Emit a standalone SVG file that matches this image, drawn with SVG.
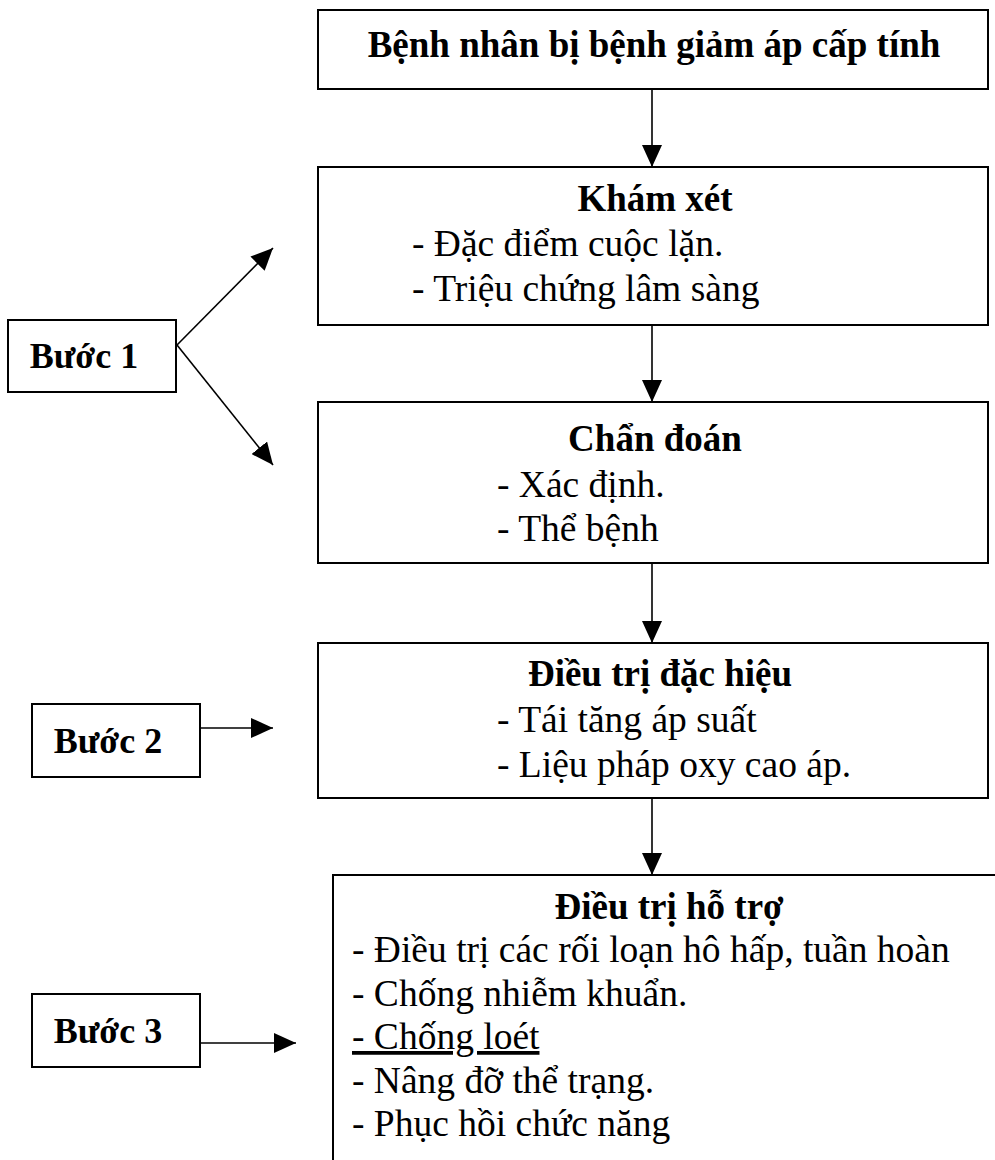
<svg xmlns="http://www.w3.org/2000/svg" width="995" height="1160" viewBox="0 0 995 1160">
<style>
.box{fill:#fff;stroke:#000;stroke-width:2}
.conn{stroke:#000;stroke-width:1.6;fill:none}
.t{font-family:"Liberation Serif","Times New Roman",serif;font-size:37.5px;fill:#000}
.b{font-weight:bold;font-size:37px}
.s{font-size:36px}
.c{text-anchor:middle}
</style>
<defs>
<marker id="ah" viewBox="0 0 22 20" refX="22" refY="10" markerWidth="22" markerHeight="20" markerUnits="userSpaceOnUse" orient="auto">
<path d="M0,0 L22,10 L0,20 z" fill="#000"/>
</marker>
</defs>
<rect width="995" height="1160" fill="#fff"/>
<g id="connectors">
<line class="conn" x1="652" y1="89" x2="652" y2="167" marker-end="url(#ah)"/>
<line class="conn" x1="652" y1="325" x2="652" y2="402" marker-end="url(#ah)"/>
<line class="conn" x1="652" y1="563" x2="652" y2="643" marker-end="url(#ah)"/>
<line class="conn" x1="652" y1="798" x2="652" y2="875" marker-end="url(#ah)"/>
<line class="conn" x1="177" y1="345" x2="273" y2="248" marker-end="url(#ah)"/>
<line class="conn" x1="177" y1="345" x2="273" y2="465" marker-end="url(#ah)"/>
<line class="conn" x1="200" y1="728" x2="273" y2="728" marker-end="url(#ah)"/>
<line class="conn" x1="200" y1="1043" x2="296" y2="1043" marker-end="url(#ah)"/>
</g>
<g id="n-start">
<rect class="box" x="318" y="10" width="670" height="79"/>
<text class="t b c" x="654" y="57">Bệnh nhân bị bệnh giảm áp cấp tính</text>
</g>
<g id="n-khamxet">
<rect class="box" x="318" y="167" width="670" height="158"/>
<text class="t b c" x="655" y="211">Khám xét</text>
<text class="t" x="412" y="256">- Đặc điểm cuộc lặn.</text>
<text class="t" x="412" y="301">- Triệu chứng lâm sàng</text>
</g>
<g id="n-chandoan">
<rect class="box" x="318" y="402" width="670" height="161"/>
<text class="t b c" x="655" y="451">Chẩn đoán</text>
<text class="t" x="497" y="497">- Xác định.</text>
<text class="t" x="497" y="541">- Thể bệnh</text>
</g>
<g id="n-dachieu">
<rect class="box" x="318" y="643" width="670" height="155"/>
<text class="t b c" x="660" y="686">Điều trị đặc hiệu</text>
<text class="t" x="497" y="732">- Tái tăng áp suất</text>
<text class="t" x="497" y="777">- Liệu pháp oxy cao áp.</text>
</g>
<g id="n-hotro">
<rect class="box" x="333" y="875" width="700" height="320"/>
<text class="t b c" x="669" y="919">Điều trị hỗ trợ</text>
<text class="t" x="352" y="962">- Điều trị các rối loạn hô hấp, tuần hoàn</text>
<text class="t" x="352" y="1006">- Chống nhiễm khuẩn.</text>
<text class="t" x="352" y="1049" text-decoration="underline">- Chống loét</text>
<text class="t" x="352" y="1093">- Nâng đỡ thể trạng.</text>
<text class="t" x="352" y="1136">- Phục hồi chức năng</text>
</g>
<g id="n-buoc1">
<rect class="box" x="8" y="320" width="168" height="72"/>
<text class="t b s c" x="84" y="368">Bước 1</text>
</g>
<g id="n-buoc2">
<rect class="box" x="32" y="704" width="168" height="73"/>
<text class="t b s c" x="108" y="753">Bước 2</text>
</g>
<g id="n-buoc3">
<rect class="box" x="32" y="994" width="168" height="73"/>
<text class="t b s c" x="108" y="1043">Bước 3</text>
</g>
</svg>
